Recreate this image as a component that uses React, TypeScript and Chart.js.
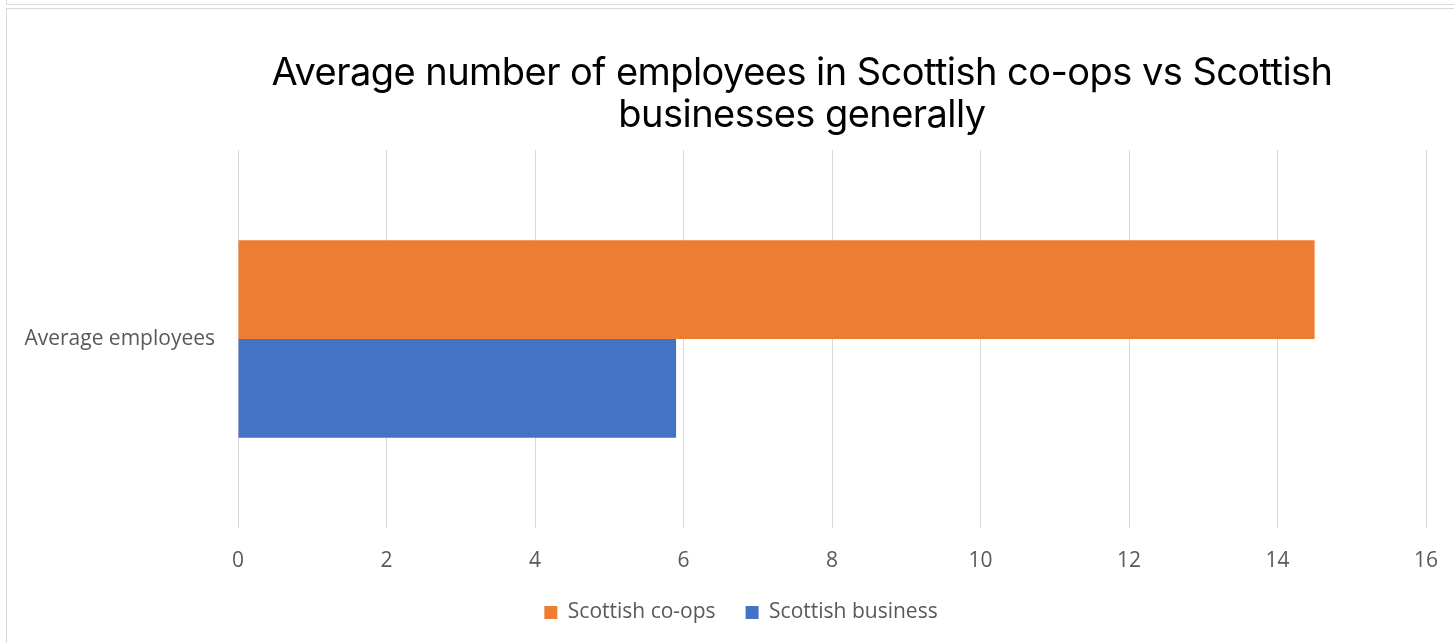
import React, { useEffect, useRef } from "react";
import { Chart, registerables } from "chart.js";

Chart.register(...registerables);

const categories = ["Average employees"];
const seriesNames = ["Scottish co-ops", "Scottish business"];
const coopValues = [14.5];
const businessValues = [5.9];
const titleLines = ["Average number of employees in Scottish co-ops vs Scottish", "businesses generally"];
const xMin = 0;
const xMax = 16;
const xStep = 2;

const legendShift = {
  id: "legendShift",
  afterLayout(chart: any) {
    const lg = chart.legend;
    if (lg) {
      lg.left += 28;
      lg.right += 28;
    }
  },
};

export default function App() {
  const ref = useRef<HTMLCanvasElement | null>(null);
  useEffect(() => {
    if (!ref.current) return;
    const chart = new Chart(ref.current, {
      type: "bar",
      data: {
        labels: categories,
        datasets: [
          { label: seriesNames[0], data: coopValues, backgroundColor: "#ED7D31", borderWidth: 0 },
          { label: seriesNames[1], data: businessValues, backgroundColor: "#4472C4", borderWidth: 0 },
        ],
      },
      plugins: [legendShift],
      options: {
        indexAxis: "y",
        responsive: false,
        animation: false,
        devicePixelRatio: 1,
        layout: { padding: { left: 0, right: 28, top: 150, bottom: 10 } },
        datasets: { bar: { categoryPercentage: 0.523, barPercentage: 1 } },
        scales: {
          x: {
            min: xMin,
            max: xMax,
            ticks: { stepSize: xStep, color: "#595959", font: { family: "'Open Sans'", size: 21 }, padding: 20 },
            grid: { color: "#d9d9d9", lineWidth: 1, drawTicks: false },
            border: { display: false },
            afterFit: (s: any) => {
              s.height = 44;
              s.paddingLeft = 0;
              s.paddingRight = 0;
            },
          },
          y: {
            ticks: { color: "#595959", font: { family: "'Open Sans'", size: 21 }, padding: 23 },
            grid: { display: false, drawTicks: false },
            border: { display: false },
            afterFit: (s: any) => { s.width = 238; },
          },
        },
        plugins: {
          title: { display: false },
          tooltip: { enabled: false },
          legend: {
            position: "bottom",
            labels: {
              color: "#595959",
              font: { family: "'Open Sans'", size: 21 },
              boxWidth: 13,
              boxHeight: 13,
              padding: 30,
            },
          },
        },
      },
    });
    return () => chart.destroy();
  }, []);

  return (
    <div style={{ position: "absolute", left: 0, top: 0, width: 1454, height: 643, overflow: "hidden", background: "#fff" }}>
      <div style={{ position: "absolute", left: 6, top: -2, width: 1460, height: 6, borderLeft: "1.5px solid #d9d9d9", borderBottom: "1.5px solid #d9d9d9" }} />
      <div style={{ position: "absolute", left: 6, top: 8, width: 1460, height: 700, borderLeft: "1.5px solid #d9d9d9", borderTop: "1.5px solid #d9d9d9" }} />
      <canvas ref={ref} width={1454} height={643} style={{ position: "absolute", left: 0, top: 0, width: 1454, height: 643 }} />
      <div
        style={{
          position: "absolute",
          left: 202,
          top: 50,
          width: 1200,
          textAlign: "center",
          fontFamily: "Inter, 'Liberation Sans', sans-serif",
          fontSize: 38,
          lineHeight: "42px",
          color: "#000",
          letterSpacing: "-0.55px",
        }}
      >
        {titleLines[0]}
        <br />
        {titleLines[1]}
      </div>
    </div>
  );
}
